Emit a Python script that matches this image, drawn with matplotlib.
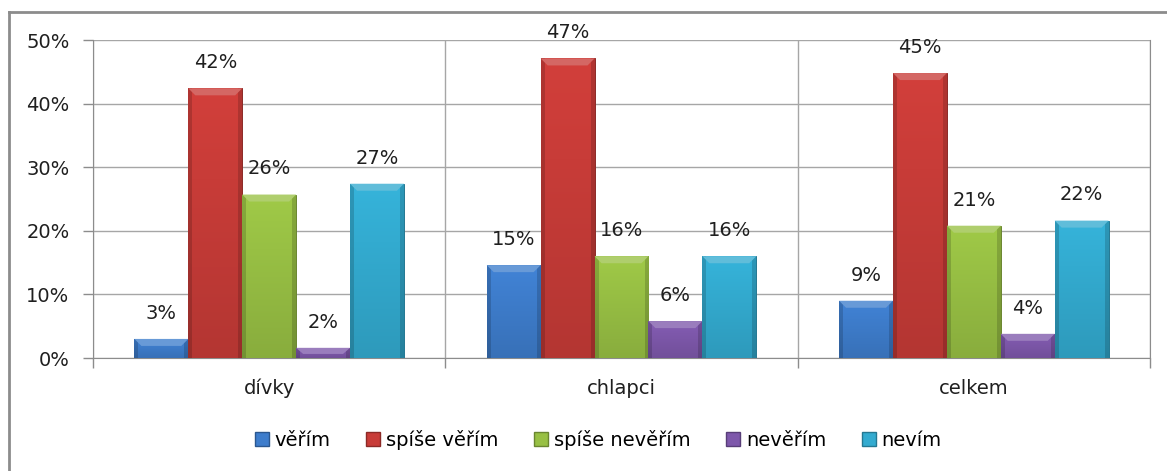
import numpy as np
import matplotlib.pyplot as plt
from matplotlib.patches import Polygon
from matplotlib.lines import Line2D
from matplotlib.colors import to_rgb

categories = ['dívky', 'chlapci', 'celkem']
series = ['věřím', 'spíše věřím', 'spíše nevěřím', 'nevěřím', 'nevím']
verim = [3.0, 14.6, 9.0]
spise_verim = [42.4, 47.1, 44.8]
spise_neverim = [25.7, 16.0, 20.8]
neverim = [1.6, 5.8, 3.8]
nevim = [27.4, 16.0, 21.6]
values = [verim, spise_verim, spise_neverim, neverim, nevim]
colors = ['#3e7dcc', '#c83c38', '#98c044', '#7e58ab', '#33abd0']

plt.rcParams['font.family'] = ['DejaVu Sans']
W, H = 1167, 471
fig = plt.figure(figsize=(W / 100, H / 100), dpi=100)
ax = fig.add_axes([93 / W, 1 - 358 / H, (1150 - 93) / W, (358 - 40) / H])

def mix(c, other, t):
    c = np.array(to_rgb(c))
    return tuple(np.clip(c * (1 - t) + np.array(other) * t, 0, 1))

x = np.arange(len(categories))
width = 0.153
n = len(series)
# bevel sizes in data units (about 7 px)
bx = 7 / 352
by = 7 / 6.36

for i, (name, vals, col) in enumerate(zip(series, values, colors)):
    pos = x + (i - (n - 1) / 2) * width
    bars = ax.bar(pos, vals, width, color=col, edgecolor=mix(col, (0, 0, 0), 0.3),
                  linewidth=0.7, zorder=3, label=name)
    base = np.array(to_rgb(col))
    for b, v in zip(bars, vals):
        x0, y0 = b.get_x(), b.get_y()
        w, h = b.get_width(), b.get_height()
        # vertical shading (lighter at top) and darker side strips
        ny, nx = 64, 54
        tv = np.linspace(0, 1, ny)[:, None]
        fv = 1.05 - 0.15 * tv
        xs = np.arange(nx)
        side = np.where((xs < 4) | (xs >= nx - 4), 0.84, 1.0)[None, :]
        rgba = np.ones((ny, nx, 4))
        for k in range(3):
            rgba[:, :, k] = np.clip(base[k] * fv * side, 0, 1)
        im = ax.imshow(rgba, extent=(x0, x0 + w, y0, y0 + h), aspect='auto',
                       zorder=3.1, interpolation='bilinear')
        im.set_clip_path(b)
        bh = min(by, h * 0.6)
        top = Polygon([(x0, h), (x0 + w, h), (x0 + w - bx, h - bh), (x0 + bx, h - bh)],
                      closed=True, facecolor=mix(col, (1, 1, 1), 0.22),
                      edgecolor='none', zorder=3.2)
        ax.add_patch(top)
        ax.annotate(f'{v:.0f}%', (x0 + w / 2, h), xytext=(0, 18.5),
                    textcoords='offset points', ha='center', va='center',
                    fontsize=14, color='#1f1f1f')

ax.set_xlim(-0.5, len(categories) - 0.5)
ax.set_ylim(0, 50)
ax.set_yticks(np.arange(0, 51, 10))
ax.set_yticklabels([f'{t}%' for t in range(0, 51, 10)], fontsize=14, color='#1f1f1f')
ax.set_xticks(x)
ax.set_xticklabels(categories, fontsize=14, color='#1f1f1f')
ax.set_xticks(np.arange(-0.5, len(categories), 1), minor=True)
ax.tick_params(axis='x', which='major', length=0, pad=15)
ax.tick_params(axis='x', which='minor', length=7, color='#8c8c8c', width=1)
ax.tick_params(axis='y', length=7, color='#8c8c8c', width=1, pad=10)
ax.grid(axis='y', color='#a6a6a6', linewidth=1, zorder=0)
ax.grid(axis='x', which='minor', color='#a6a6a6', linewidth=1, zorder=0)
ax.set_axisbelow(True)
for s in ['left', 'bottom', 'right']:
    ax.spines[s].set_color('#8c8c8c')
ax.spines['top'].set_visible(False)

handles = [Line2D([], [], marker='s', linestyle='none', markersize=9.5,
                  markerfacecolor=c, markeredgecolor=mix(c, (0, 0, 0), 0.3))
           for c in colors]
fig.legend(handles, series, loc='center', bbox_to_anchor=(598 / W, 1 - 440 / H),
           ncol=5, frameon=False, fontsize=14, handlelength=0.8,
           handletextpad=0.25, columnspacing=1.8)

# outer chart border (top and left visible)
fig.add_artist(Line2D([9 / W, 1], [1 - 12 / H, 1 - 12 / H], color='#8c8c8c', linewidth=2))
fig.add_artist(Line2D([9 / W, 9 / W], [0, 1 - 12 / H], color='#8c8c8c', linewidth=2))

fig.savefig('out.png', dpi=100)
